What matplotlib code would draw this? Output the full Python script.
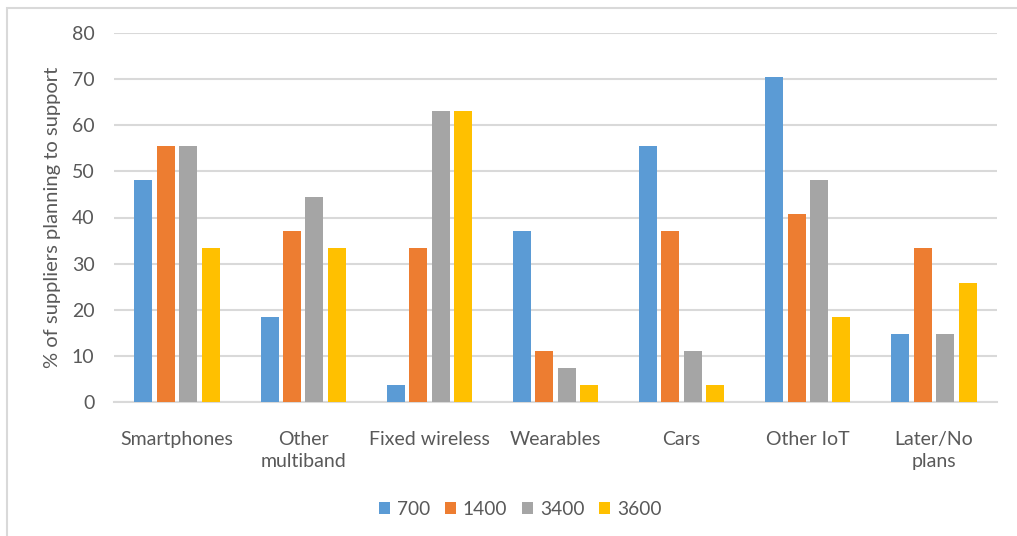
"""
Device support by band - grouped bar chart
"""

import numpy as np
import matplotlib.pyplot as plt
from matplotlib.patches import Rectangle

categories = ['Smartphones', 'Other\nmultiband', 'Fixed wireless', 'Wearables',
              'Cars', 'Other IoT', 'Later/No\nplans']
bands = ['700', '1400', '3400', '3600']
band_700 = [48.1, 18.5, 3.7, 37.0, 55.6, 70.4, 14.8]
band_1400 = [55.6, 37.0, 33.3, 11.1, 37.0, 40.7, 33.3]
band_3400 = [55.6, 44.4, 63.0, 7.4, 11.1, 48.1, 14.8]
band_3600 = [33.3, 33.3, 63.0, 3.7, 3.7, 18.5, 25.9]
yticks = [0, 10, 20, 30, 40, 50, 60, 70, 80]

colors = ['#5b9bd5', '#ed7d31', '#a5a5a5', '#ffc000']
text_col = '#595959'
grid_col = '#d9d9d9'

plt.rcParams['font.family'] = ['Lato', 'DejaVu Sans']

fig = plt.figure(figsize=(10.17, 5.36), dpi=100)
ax = fig.add_axes([114 / 1017, 1 - 402 / 536, (997 - 114) / 1017, (402 - 33) / 536])

# light frame around the chart like the exported image
fig.patches.append(Rectangle((7 / 1017, -0.1), 1.2, 1 - 8 / 536 + 0.1,
                             transform=fig.transFigure, fill=False,
                             edgecolor='#d9d9d9', linewidth=1.5))

x = np.arange(len(categories))
slot = 0.178
width = 0.143
series = [band_700, band_1400, band_3400, band_3600]
for i, (vals, lab, col) in enumerate(zip(series, bands, colors)):
    ax.bar(x + (i - 1.5) * slot, vals, width, color=col, label=lab, zorder=3)

ax.set_xlim(-0.5, len(categories) - 0.5)
ax.set_ylim(0, 80)
ax.set_yticks(yticks)
ax.yaxis.grid(True, color=grid_col, linewidth=1.5, zorder=0)
ax.set_axisbelow(True)
for s in ['top', 'right', 'left']:
    ax.spines[s].set_visible(False)
ax.spines['bottom'].set_color(grid_col)
ax.spines['bottom'].set_linewidth(1.5)
ax.tick_params(axis='both', length=0, colors=text_col, labelsize=14)
ax.tick_params(axis='y', pad=14)
ax.tick_params(axis='x', pad=21)
ax.set_xticks(x)
ax.set_xticklabels(categories, va='top', linespacing=1.35)

ax.set_ylabel('% of suppliers planning to support', color=text_col,
              fontsize=14.5, labelpad=8)

ax.legend(loc='upper center', bbox_to_anchor=(0.46, -0.222), ncol=4, frameon=False,
          fontsize=13.8, labelcolor=text_col, handlelength=0.6, handleheight=0.6,
          handletextpad=0.35, columnspacing=0.75)

plt.savefig('out.png', dpi=100)
